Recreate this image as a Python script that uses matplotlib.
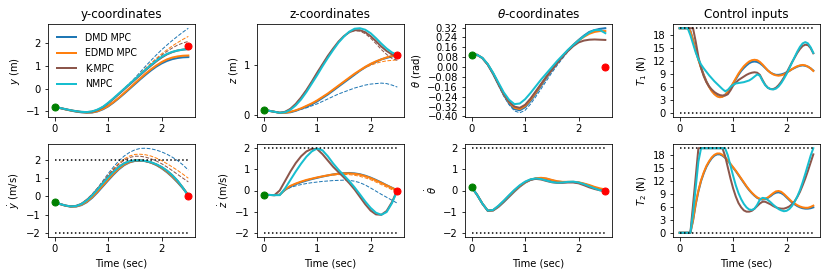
import matplotlib
matplotlib.use("Agg")
import matplotlib.pyplot as plt

# ---------------- data ----------------
methods = ["DMD MPC", "EDMD MPC", "K-MPC", "NMPC"]
colors = ["#1f77b4", "#ff7f0e", "#8c564b", "#17becf"]

t_s = [0.0, 0.1, 0.2, 0.3, 0.4, 0.5, 0.6, 0.7, 0.8, 0.9, 1.0, 1.1, 1.2,
       1.3, 1.4, 1.5, 1.6, 1.7, 1.8, 1.9, 2.0, 2.1, 2.2, 2.3, 2.4, 2.5]

t_u = [0.0, 0.05, 0.1, 0.15, 0.2, 0.25, 0.3, 0.35, 0.4, 0.45, 0.5, 0.55,
       0.6, 0.65, 0.7, 0.75, 0.8, 0.85, 0.9, 0.95, 1.0, 1.05, 1.1, 1.15,
       1.2, 1.25, 1.3, 1.35, 1.4, 1.45, 1.5, 1.55, 1.6, 1.65, 1.7, 1.75,
       1.8, 1.85, 1.9, 1.95, 2.0, 2.05, 2.1, 2.15, 2.2, 2.25, 2.3, 2.35,
       2.4, 2.45, 2.5]

# y
y_dmd = [-0.80, -0.85, -0.91, -0.96, -1.01, -1.04, -1.06, -1.05, -1.00, -0.91, -0.78, -0.61, -0.42,
         -0.22, -0.01, 0.20, 0.41, 0.61, 0.80, 0.97, 1.11, 1.22, 1.30, 1.35, 1.38, 1.39]
y_edmd = [-0.80, -0.85, -0.91, -0.96, -1.00, -1.03, -1.05, -1.04, -0.99, -0.89, -0.76, -0.59, -0.40,
          -0.19, 0.02, 0.24, 0.45, 0.66, 0.85, 1.02, 1.17, 1.29, 1.37, 1.42, 1.45, 1.46]
y_kmpc = [-0.80, -0.85, -0.90, -0.95, -0.99, -1.02, -1.03, -1.01, -0.94, -0.82, -0.65, -0.45, -0.24,
          -0.03, 0.18, 0.39, 0.60, 0.81, 1.01, 1.20, 1.37, 1.51, 1.61, 1.68, 1.72, 1.75]
y_nmpc = [-0.80, -0.85, -0.90, -0.95, -0.99, -1.02, -1.03, -1.00, -0.92, -0.80, -0.62, -0.42, -0.21,
          0.00, 0.21, 0.42, 0.63, 0.84, 1.04, 1.23, 1.40, 1.53, 1.62, 1.68, 1.72, 1.74]
y_dmd_pred = [-0.80, -0.85, -0.90, -0.95, -0.99, -1.02, -1.03, -1.00, -0.92, -0.80, -0.63, -0.43, -0.22,
              0.00, 0.23, 0.47, 0.73, 0.99, 1.24, 1.48, 1.71, 1.92, 2.12, 2.31, 2.49, 2.66]
y_edmd_pred = [-0.80, -0.85, -0.90, -0.95, -0.99, -1.02, -1.03, -1.00, -0.92, -0.80, -0.63, -0.43, -0.22,
               0.00, 0.22, 0.44, 0.67, 0.90, 1.12, 1.33, 1.53, 1.71, 1.88, 2.03, 2.17, 2.30]
y_kmpc_pred = [-0.80, -0.85, -0.90, -0.95, -0.99, -1.02, -1.03, -1.00, -0.92, -0.80, -0.63, -0.43, -0.22,
               0.00, 0.21, 0.42, 0.64, 0.86, 1.07, 1.28, 1.47, 1.64, 1.79, 1.92, 2.01, 2.08]

# z
z_dmd = [0.10, 0.08, 0.06, 0.04, 0.04, 0.05, 0.08, 0.12, 0.16, 0.21, 0.27, 0.34, 0.41,
         0.49, 0.57, 0.65, 0.73, 0.81, 0.89, 0.96, 1.02, 1.07, 1.12, 1.15, 1.18, 1.19]
z_edmd = [0.10, 0.08, 0.06, 0.04, 0.04, 0.06, 0.09, 0.13, 0.18, 0.23, 0.29, 0.36, 0.43,
          0.51, 0.59, 0.67, 0.75, 0.83, 0.90, 0.97, 1.03, 1.08, 1.12, 1.16, 1.19, 1.20]
z_kmpc = [0.10, 0.08, 0.06, 0.04, 0.06, 0.12, 0.22, 0.35, 0.50, 0.67, 0.85, 1.02, 1.19,
          1.34, 1.48, 1.59, 1.67, 1.71, 1.71, 1.67, 1.59, 1.49, 1.38, 1.29, 1.22, 1.18]
z_nmpc = [0.10, 0.08, 0.06, 0.04, 0.05, 0.10, 0.19, 0.31, 0.46, 0.63, 0.80, 0.98, 1.15,
          1.31, 1.46, 1.58, 1.68, 1.74, 1.75, 1.72, 1.65, 1.55, 1.44, 1.34, 1.26, 1.21]
z_dmd_pred = [0.10, 0.08, 0.06, 0.04, 0.04, 0.05, 0.08, 0.11, 0.14, 0.18, 0.22, 0.27, 0.32,
              0.37, 0.42, 0.46, 0.50, 0.54, 0.57, 0.60, 0.62, 0.63, 0.64, 0.63, 0.60, 0.56]
z_edmd_pred = [0.10, 0.08, 0.06, 0.04, 0.04, 0.06, 0.09, 0.13, 0.18, 0.23, 0.29, 0.36, 0.43,
               0.51, 0.59, 0.67, 0.75, 0.82, 0.89, 0.95, 1.00, 1.04, 1.07, 1.09, 1.10, 1.11]
z_kmpc_pred = [0.10, 0.08, 0.06, 0.04, 0.06, 0.12, 0.22, 0.35, 0.50, 0.67, 0.85, 1.02, 1.19,
               1.34, 1.47, 1.58, 1.66, 1.70, 1.69, 1.64, 1.55, 1.44, 1.32, 1.22, 1.14, 1.10]

# theta
th_dmd = [0.100, 0.100, 0.073, 0.020, -0.055, -0.140, -0.225, -0.295, -0.340, -0.350, -0.325, -0.275, -0.215,
          -0.150, -0.085, -0.025, 0.030, 0.085, 0.135, 0.180, 0.220, 0.255, 0.285, 0.300, 0.310, 0.315]
th_edmd = [0.100, 0.100, 0.073, 0.022, -0.050, -0.135, -0.218, -0.285, -0.330, -0.340, -0.315, -0.265, -0.205,
           -0.140, -0.078, -0.020, 0.035, 0.088, 0.135, 0.178, 0.215, 0.245, 0.270, 0.285, 0.292, 0.292]
th_kmpc = [0.100, 0.100, 0.074, 0.022, -0.050, -0.135, -0.215, -0.280, -0.320, -0.330, -0.305, -0.255, -0.195,
           -0.135, -0.075, -0.020, 0.035, 0.085, 0.130, 0.170, 0.200, 0.215, 0.222, 0.224, 0.222, 0.220]
th_nmpc = [0.100, 0.100, 0.075, 0.025, -0.045, -0.125, -0.205, -0.265, -0.300, -0.295, -0.260, -0.210, -0.155,
           -0.100, -0.050, 0.000, 0.050, 0.095, 0.140, 0.180, 0.215, 0.250, 0.280, 0.300, 0.300, 0.275]
th_dmd_pred = [0.100, 0.100, 0.072, 0.018, -0.060, -0.148, -0.235, -0.305, -0.355, -0.370, -0.350, -0.300, -0.240,
               -0.175, -0.110, -0.045, 0.015, 0.070, 0.125, 0.170, 0.210, 0.250, 0.280, 0.300, 0.310, 0.315]

# y dot
yd_dmd = [-0.30, -0.42, -0.51, -0.56, -0.56, -0.48, -0.32, -0.08, 0.22, 0.55, 0.88, 1.20, 1.49,
          1.72, 1.87, 1.95, 1.97, 1.94, 1.86, 1.73, 1.55, 1.33, 1.07, 0.77, 0.44, 0.08]
yd_edmd = [-0.30, -0.42, -0.51, -0.56, -0.55, -0.46, -0.29, -0.04, 0.27, 0.60, 0.93, 1.25, 1.53,
           1.75, 1.89, 1.96, 1.97, 1.94, 1.86, 1.74, 1.57, 1.36, 1.10, 0.80, 0.46, 0.08]
yd_kmpc = [-0.30, -0.42, -0.50, -0.55, -0.52, -0.41, -0.20, 0.07, 0.40, 0.74, 1.07, 1.37, 1.63,
           1.82, 1.93, 1.97, 1.97, 1.94, 1.87, 1.76, 1.61, 1.41, 1.16, 0.85, 0.47, 0.04]
yd_nmpc = [-0.30, -0.42, -0.50, -0.55, -0.53, -0.42, -0.22, 0.05, 0.38, 0.72, 1.05, 1.35, 1.62,
           1.82, 1.94, 1.98, 1.98, 1.95, 1.88, 1.77, 1.62, 1.42, 1.17, 0.86, 0.47, 0.02]
yd_dmd_pred = [-0.30, -0.42, -0.50, -0.55, -0.52, -0.40, -0.18, 0.12, 0.45, 0.85, 1.25, 1.62, 1.95,
               2.22, 2.42, 2.56, 2.64, 2.65, 2.62, 2.55, 2.45, 2.32, 2.16, 1.97, 1.73, 1.45]
yd_edmd_pred = [-0.30, -0.42, -0.50, -0.55, -0.52, -0.40, -0.18, 0.10, 0.43, 0.80, 1.17, 1.52, 1.82,
                2.06, 2.22, 2.31, 2.32, 2.29, 2.22, 2.11, 1.97, 1.80, 1.62, 1.43, 1.22, 1.00]
yd_kmpc_pred = [-0.30, -0.42, -0.50, -0.55, -0.52, -0.40, -0.18, 0.10, 0.43, 0.79, 1.15, 1.48, 1.77,
                1.99, 2.14, 2.21, 2.21, 2.16, 2.07, 1.95, 1.80, 1.62, 1.42, 1.21, 1.00, 0.80]

# z dot
zd_dmd = [-0.20, -0.21, -0.22, -0.20, 0.03, 0.19, 0.30, 0.39, 0.47, 0.54, 0.60, 0.66, 0.71,
          0.76, 0.80, 0.82, 0.83, 0.81, 0.77, 0.70, 0.61, 0.50, 0.38, 0.25, 0.13, 0.01]
zd_edmd = [-0.20, -0.21, -0.22, -0.20, 0.05, 0.22, 0.33, 0.42, 0.50, 0.56, 0.62, 0.67, 0.72,
           0.76, 0.79, 0.81, 0.81, 0.79, 0.75, 0.68, 0.59, 0.48, 0.36, 0.24, 0.12, 0.00]
zd_kmpc = [-0.20, -0.21, -0.22, 0.00, 0.45, 0.90, 1.30, 1.62, 1.85, 1.97, 1.96, 1.72, 1.42,
           1.12, 0.87, 0.62, 0.35, 0.05, -0.30, -0.65, -0.95, -1.13, -1.15, -0.97, -0.55, 0.02]
zd_nmpc = [-0.20, -0.21, -0.22, -0.22, 0.10, 0.50, 0.90, 1.27, 1.60, 1.85, 1.99, 1.90, 1.62,
           1.28, 0.98, 0.72, 0.45, 0.15, -0.18, -0.52, -0.82, -1.05, -1.15, -1.02, -0.60, 0.00]
zd_dmd_pred = [-0.20, -0.21, -0.22, -0.20, 0.02, 0.14, 0.22, 0.28, 0.33, 0.37, 0.40, 0.43, 0.45,
               0.47, 0.48, 0.49, 0.48, 0.44, 0.37, 0.26, 0.12, -0.03, -0.18, -0.32, -0.46, -0.60]
zd_edmd_pred = [-0.20, -0.21, -0.22, -0.20, 0.05, 0.22, 0.33, 0.42, 0.50, 0.56, 0.61, 0.66, 0.70,
                0.73, 0.75, 0.76, 0.75, 0.72, 0.67, 0.60, 0.51, 0.40, 0.28, 0.16, 0.04, -0.08]

# theta dot
thd_dmd = [0.15, -0.20, -0.62, -0.95, -0.95, -0.78, -0.55, -0.30, -0.05, 0.18, 0.37, 0.50, 0.57,
           0.59, 0.55, 0.48, 0.42, 0.40, 0.40, 0.40, 0.37, 0.31, 0.23, 0.14, 0.06, 0.02]
thd_edmd = [0.15, -0.20, -0.62, -0.95, -0.94, -0.76, -0.52, -0.27, -0.02, 0.20, 0.38, 0.51, 0.58,
            0.60, 0.57, 0.50, 0.44, 0.41, 0.41, 0.41, 0.39, 0.33, 0.26, 0.17, 0.10, 0.05]
thd_kmpc = [0.15, -0.20, -0.62, -0.96, -0.93, -0.74, -0.50, -0.24, 0.01, 0.22, 0.40, 0.51, 0.55,
            0.52, 0.45, 0.39, 0.36, 0.36, 0.38, 0.38, 0.34, 0.25, 0.15, 0.07, 0.01, -0.02]
thd_nmpc = [0.15, -0.20, -0.62, -0.95, -0.92, -0.72, -0.48, -0.22, 0.03, 0.25, 0.42, 0.53, 0.57,
            0.54, 0.47, 0.40, 0.37, 0.38, 0.41, 0.42, 0.38, 0.30, 0.20, 0.10, 0.01, -0.05]

# thrusts
T_max = 19.62
T_min = 0.0
T1_dmd = [19.62, 19.62, 19.62, 19.62, 19.0, 16.9, 14.5, 12.4, 10.5, 8.8, 7.3, 6.1, 5.1, 4.4, 3.9, 3.7,
          3.8, 4.2, 4.9, 5.8, 6.8, 7.8, 8.8, 9.7, 10.4, 11.0, 11.5, 11.8, 11.9, 11.8, 11.5, 11.0,
          10.4, 9.8, 9.3, 9.0, 8.8, 8.8, 8.9, 9.1, 9.4, 9.7, 10.1, 10.4, 10.7, 10.9, 11.0, 10.9,
          10.7, 10.3, 9.8]
T1_edmd = [19.62, 19.62, 19.62, 19.62, 18.9, 16.8, 14.4, 12.3, 10.4, 8.7, 7.2, 6.0, 5.0, 4.3, 3.8, 3.6,
           3.7, 4.1, 4.8, 5.8, 6.9, 8.0, 9.1, 10.0, 10.8, 11.4, 11.9, 12.2, 12.3, 12.2, 11.8, 11.2,
           10.5, 9.8, 9.3, 8.9, 8.7, 8.6, 8.7, 8.9, 9.3, 9.7, 10.1, 10.5, 10.8, 11.0, 11.1, 11.0,
           10.7, 10.3, 9.7]
T1_kmpc = [19.62, 19.62, 19.62, 19.62, 19.62, 19.62, 16.5, 13.0, 10.4, 8.5, 7.1, 6.1, 5.4, 4.8, 4.4, 4.1,
           4.0, 4.0, 4.3, 5.2, 6.3, 7.0, 7.6, 8.0, 8.4, 8.8, 9.1, 9.3, 9.4, 9.3, 8.8, 7.6,
           6.5, 5.8, 5.5, 5.5, 5.8, 6.4, 7.2, 8.2, 9.3, 10.5, 11.7, 12.8, 13.9, 14.8, 15.5, 15.8,
           15.7, 15.0, 13.8]
T1_nmpc = [19.62, 19.62, 19.62, 19.62, 18.0, 16.0, 14.0, 12.4, 11.2, 10.3, 9.5, 8.7, 8.0, 7.3, 6.7, 6.1,
           5.5, 5.0, 5.3, 6.0, 6.5, 6.8, 6.9, 7.0, 7.1, 7.3, 7.5, 7.9, 8.4, 8.9, 8.6, 7.4,
           6.4, 5.8, 5.5, 5.4, 5.6, 6.1, 6.9, 7.9, 9.0, 10.3, 11.6, 12.9, 14.2, 15.3, 16.1, 16.4,
           16.1, 15.2, 13.9]

T2_dmd = [0.0, 0.0, 0.0, 0.0, 0.0, 2.8, 6.6, 9.6, 12.0, 13.8, 15.3, 16.4, 17.3, 17.9, 18.2, 18.2,
          17.9, 17.4, 16.7, 15.9, 15.1, 14.3, 13.4, 12.5, 11.6, 10.7, 9.9, 9.2, 8.6, 8.1, 7.8, 7.7,
          7.8, 8.1, 8.5, 9.0, 9.3, 9.4, 9.2, 8.8, 8.2, 7.6, 7.0, 6.6, 6.2, 5.9, 5.7, 5.6,
          5.6, 5.7, 5.9]
T2_edmd = [0.0, 0.0, 0.0, 0.0, 0.0, 3.0, 6.8, 9.8, 12.2, 14.0, 15.5, 16.6, 17.5, 18.1, 18.4, 18.4,
           18.1, 17.5, 16.8, 16.0, 15.2, 14.4, 13.5, 12.6, 11.7, 10.8, 10.0, 9.3, 8.7, 8.2, 7.9, 7.8,
           7.9, 8.2, 8.7, 9.2, 9.6, 9.7, 9.5, 9.0, 8.4, 7.8, 7.2, 6.8, 6.4, 6.1, 5.9, 5.8,
           5.8, 6.0, 6.3]
T2_kmpc = [0.0, 0.0, 0.0, 0.0, 0.0, 6.5, 13.0, 19.62, 19.62, 19.62, 19.62, 19.62, 19.62, 19.62, 19.62, 19.62,
           19.62, 17.8, 15.2, 12.6, 10.3, 8.4, 6.9, 5.9, 5.2, 4.9, 4.9, 5.1, 5.6, 6.2, 6.8, 7.2,
           7.2, 6.9, 6.6, 6.2, 5.9, 5.7, 5.6, 5.6, 5.8, 6.1, 6.6, 7.3, 8.3, 9.5, 11.0, 12.6,
           14.4, 16.3, 18.2]
T2_nmpc = [0.0, 0.0, 0.0, 0.0, 0.0, 4.5, 10.5, 16.5, 19.62, 19.62, 19.62, 19.62, 19.62, 19.62, 19.62, 19.62,
           19.62, 19.62, 18.0, 15.6, 13.2, 11.0, 9.2, 7.8, 6.7, 5.9, 5.4, 5.3, 5.6, 6.5, 7.7, 8.1,
           8.0, 7.6, 7.1, 6.5, 6.0, 5.5, 5.2, 5.0, 5.1, 5.5, 6.2, 7.2, 8.4, 9.9, 11.7, 13.7,
           15.8, 17.9, 19.62]

# initial / target states: y, z, theta, ydot, zdot, thetadot
x0 = [-0.80, 0.10, 0.10, -0.30, -0.20, 0.15]
xf = [1.90, 1.20, 0.00, 0.00, 0.00, 0.00]
v_lim = 2.0
t_end = 2.5

# ---------------- figure ----------------
plt.rcParams['font.size'] = 10
fig = plt.figure(figsize=(830 / 72, 277 / 72), dpi=72)
W, H = 830.0, 277.0
lefts = [48, 257, 465, 673]
tops = [24, 144]
aw, ah = 147, 93
axs = [[fig.add_axes([l / W, 1 - (tp + ah) / H, aw / W, ah / H]) for l in lefts] for tp in tops]

state_panels = [
    (axs[0][0], [y_dmd, y_edmd, y_kmpc, y_nmpc], [y_dmd_pred, y_edmd_pred, y_kmpc_pred], 0),
    (axs[0][1], [z_dmd, z_edmd, z_kmpc, z_nmpc], [z_dmd_pred, z_edmd_pred, z_kmpc_pred], 1),
    (axs[0][2], [th_dmd, th_edmd, th_kmpc, th_nmpc], [th_dmd_pred], 2),
    (axs[1][0], [yd_dmd, yd_edmd, yd_kmpc, yd_nmpc], [yd_dmd_pred, yd_edmd_pred, yd_kmpc_pred], 3),
    (axs[1][1], [zd_dmd, zd_edmd, zd_kmpc, zd_nmpc], [zd_dmd_pred, zd_edmd_pred], 4),
    (axs[1][2], [thd_dmd, thd_edmd, thd_kmpc, thd_nmpc], [], 5),
]

for ax, sols, preds, k in state_panels:
    for i, s in enumerate(sols):
        ax.plot(t_s, s, color=colors[i], lw=2, label=methods[i])
        if i < len(preds):
            ax.plot(t_s, preds[i], color=colors[i], lw=1, ls='--')
    if k >= 3:
        ax.plot([0, t_end], [v_lim, v_lim], 'k:', lw=1.5)
        ax.plot([0, t_end], [-v_lim, -v_lim], 'k:', lw=1.5)
    ax.plot(0, x0[k], 'o', color='green', ms=7, zorder=5)
    ax.plot(t_end, xf[k], 'o', color='red', ms=7, zorder=5)

for ax, Ts in [(axs[0][3], [T1_dmd, T1_edmd, T1_kmpc, T1_nmpc]),
               (axs[1][3], [T2_dmd, T2_edmd, T2_kmpc, T2_nmpc])]:
    for i, s in enumerate(Ts):
        ax.plot(t_u, s, color=colors[i], lw=2)
    ax.plot([0, t_end], [T_max, T_max], 'k:', lw=1.5)
    ax.plot([0, t_end], [T_min, T_min], 'k:', lw=1.5)
    ax.set_yticks([0, 3, 6, 9, 12, 15, 18])

axs[0][0].set_title("y-coordinates")
axs[0][1].set_title("z-coordinates")
axs[0][2].set_title(r"$\theta$-coordinates")
axs[0][3].set_title("Control inputs")

axs[0][0].set_ylabel(r"$y$ (m)")
axs[0][1].set_ylabel(r"$z$ (m)")
axs[0][2].set_ylabel(r"$\theta$ (rad)")
axs[0][3].set_ylabel(r"$T_1$ (N)")
axs[1][0].set_ylabel(r"$\dot{y}$ (m/s)")
axs[1][1].set_ylabel(r"$\dot{z}$ (m/s)")
axs[1][2].set_ylabel(r"$\dot{\theta}$")
axs[1][3].set_ylabel(r"$T_2$ (N)")

axs[0][0].set_yticks([-1, 0, 1, 2])
axs[0][1].set_yticks([0, 1])
axs[0][2].set_yticks([-0.40, -0.32, -0.24, -0.16, -0.08, 0.00, 0.08, 0.16, 0.24, 0.32])
for ax in axs[1][:3]:
    ax.set_yticks([-2, -1, 0, 1, 2])

for row in axs:
    for ax in row:
        ax.set_xticks([0, 1, 2])
for ax in axs[1]:
    ax.set_xlabel("Time (sec)")

axs[0][0].legend(loc='upper left', frameon=False, fontsize=9.5,
                 handlelength=2.0, handletextpad=1.0, borderaxespad=0.5,
                 labelspacing=0.58)

fig.savefig("out.png", dpi=72)
